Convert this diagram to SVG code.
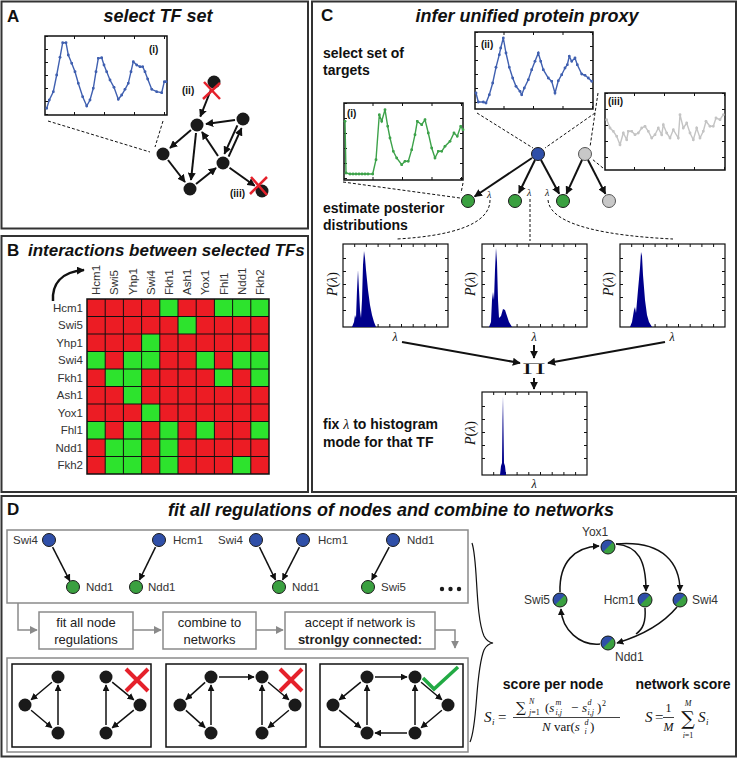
<svg xmlns="http://www.w3.org/2000/svg" width="738" height="759" viewBox="0 0 738 759">
<style>
.panel{fill:#fff;stroke:#333;stroke-width:2}
.plet{font-family:"Liberation Sans",Arial,sans-serif;font-weight:bold;font-size:17px;fill:#111}
.ttl{font-family:"Liberation Sans",Arial,sans-serif;font-weight:bold;font-style:italic;font-size:18px;fill:#111}
.lbl{font-family:"Liberation Sans",Arial,sans-serif;font-weight:bold;font-size:14px;fill:#111}
.sm{font-family:"Liberation Sans",Arial,sans-serif;font-weight:bold;font-size:10px;fill:#111}
.nm{font-family:"Liberation Sans",Arial,sans-serif;font-size:11.5px;fill:#333}
.fl{font-family:"Liberation Sans",Arial,sans-serif;font-size:13px;fill:#222}
.mth{font-family:"Liberation Serif","DejaVu Serif",serif;fill:#111}
.op{font-family:"DejaVu Serif","Liberation Serif",serif;fill:#111}
.it{font-style:italic}
.box{fill:#fff;stroke:#111;stroke-width:1.5}
.tk{fill:none;stroke:#111;stroke-width:3}
.ed{fill:none;stroke:#111;stroke-width:2;marker-end:url(#ah)}
.eds{fill:none;stroke:#111;stroke-width:1.5;marker-end:url(#ahs)}
.dash{fill:none;stroke:#111;stroke-width:1;stroke-dasharray:3 2}
.blk{fill:#1a1a1a}
.bl{fill:#2f4fa8;stroke:#1a1a1a;stroke-width:1}
.gr{fill:#3aa040;stroke:#1a1a1a;stroke-width:1}
.gy{fill:#c8c8c8;stroke:#555;stroke-width:1}
.gbox{fill:none;stroke:#8a8a8a;stroke-width:1.5}
.gline{fill:none;stroke:#8a8a8a;stroke-width:1.5;marker-end:url(#ahg)}
.rx{stroke:#e5212b;stroke-width:2.5;fill:none}
.rx2{stroke:#e5212b;stroke-width:4;fill:none}
.red{fill:#ec1c24}
.grn{fill:#2de32d}
.hist{fill:#00008b}
</style>
<defs>
<marker id="ah" viewBox="0 0 10 10" refX="9" refY="5" markerWidth="8" markerHeight="8" markerUnits="userSpaceOnUse" orient="auto"><path d="M0,0 L10,5 L0,10 z" fill="#111"/></marker>
<marker id="ahs" viewBox="0 0 10 10" refX="9" refY="5" markerWidth="7" markerHeight="7" markerUnits="userSpaceOnUse" orient="auto"><path d="M0,0 L10,5 L0,10 z" fill="#111"/></marker>
<marker id="ahg" viewBox="0 0 10 10" refX="9" refY="5" markerWidth="8" markerHeight="8" markerUnits="userSpaceOnUse" orient="auto"><path d="M0,0 L10,5 L0,10 z" fill="#8a8a8a"/></marker>
<marker id="mb" viewBox="-2 -2 4 4" refX="0" refY="0" markerWidth="3.4" markerHeight="3.4" markerUnits="userSpaceOnUse"><circle r="1.7" fill="#4060b0"/></marker>
<marker id="mg" viewBox="-2 -2 4 4" refX="0" refY="0" markerWidth="3.4" markerHeight="3.4" markerUnits="userSpaceOnUse"><circle r="1.7" fill="#3da24a"/></marker>
<marker id="my" viewBox="-2 -2 4 4" refX="0" refY="0" markerWidth="3.4" markerHeight="3.4" markerUnits="userSpaceOnUse"><circle r="1.7" fill="#c4c4c4"/></marker>
<g id="hbox">
<rect x="0" y="0" width="105" height="83" class="box" style="stroke-width:1.2"/>
<path d="M11.7,83v-3M23.4,83v-3M35.1,83v-3M46.8,83v-3M58.5,83v-3M70.2,83v-3M81.9,83v-3M93.6,83v-3M11.7,0v3M23.4,0v3M35.1,0v3M46.8,0v3M58.5,0v3M70.2,0v3M81.9,0v3M93.6,0v3" stroke="#111" stroke-width="1" fill="none"/>
<path d="M0,14.5h3M0,27.5h3M0,40.5h3M0,53.5h3M0,66.5h3M105,14.5h-3M105,27.5h-3M105,40.5h-3M105,53.5h-3M105,66.5h-3" stroke="#111" stroke-width="1" fill="none"/>
</g>
<g id="bi">
<circle r="7" fill="#3aa040"/>
<path d="M4.95,-4.95 A7,7 0 0 0 -4.95,4.95 Z" fill="#2f4fa8"/>
<circle r="7" fill="none" stroke="#1a1a1a" stroke-width="1"/>
</g>
</defs>

<rect width="738" height="759" fill="#fff"/>

<!-- Panel A -->
<g id="panelA">
<rect x="1.5" y="1.5" width="306.5" height="227" class="panel"/>
<text x="7" y="22" class="plet">A</text>
<text x="158" y="22" class="ttl" text-anchor="middle">select TF set</text>
<g id="A-plot">
<rect x="45" y="36" width="122" height="79" class="box"/>
<line x1="46.5" y1="36" x2="46.5" y2="115" class="tk" stroke-dasharray="1 12"/>
<line x1="45" y1="113.5" x2="167" y2="113.5" class="tk" stroke-dasharray="1 29" stroke-dashoffset="-29"/>
<line x1="45" y1="37.5" x2="167" y2="37.5" class="tk" stroke-dasharray="1 29" stroke-dashoffset="-29"/>
<polyline fill="none" stroke="#4060b0" stroke-width="1.4" marker-start="url(#mb)" marker-mid="url(#mb)" marker-end="url(#mb)" points="46.7,108.3 49.3,100 53.3,91.7 56.7,75 60,57.3 62.7,42.7 66,42.7 68.3,55 71.7,63.3 75,71.7 78.3,83.3 82.7,96.7 86.7,106 90,100 93.3,88.3 96,71.7 98.3,58.3 101.7,57.7 104,65 106.7,71.7 110,80 114,87.3 118.3,99.3 121.7,95 125,89.3 128.3,83.3 131,71.7 133.3,61.7 136.7,65 140,66.7 142.7,66.7 145,71.7 147.7,79 151.7,89.3 156.7,91.7 161.7,92.7 164.3,81.7 166,81.7"/>
<text x="149" y="53" class="sm">(i)</text>
</g>
<line x1="48" y1="121" x2="150" y2="152" class="dash"/>
<line x1="163" y1="121" x2="155" y2="147" class="dash"/>
<g id="A-nodes">
<circle cx="214" cy="82" r="6.5" class="blk"/>
<circle cx="197" cy="125" r="6.5" class="blk"/>
<circle cx="243" cy="119" r="6.5" class="blk"/>
<circle cx="163" cy="154" r="6.5" class="blk"/>
<circle cx="223" cy="163" r="6.5" class="blk"/>
<circle cx="190" cy="189" r="6.5" class="blk"/>
<circle cx="262" cy="191" r="6.5" class="blk"/>
</g>
<g id="A-edges">
<line x1="211" y1="89.5" x2="200.3" y2="116.6" class="ed"/>
<line x1="235" y1="120" x2="206" y2="124" class="ed"/>
<line x1="191" y1="130" x2="170" y2="148" class="ed"/>
<line x1="196" y1="133" x2="191" y2="180" class="ed"/>
<line x1="168" y1="160" x2="185" y2="182" class="ed"/>
<line x1="196" y1="184" x2="216" y2="168" class="ed"/>
<line x1="218" y1="156" x2="202" y2="132" class="ed"/>
<line x1="237.4" y1="125.3" x2="224.4" y2="153.8" class="ed"/>
<line x1="228.6" y1="156.7" x2="241.6" y2="128.2" class="ed"/>
<line x1="229.5" y1="167.7" x2="254.7" y2="185.8" class="ed"/>
</g>
<path d="M204,82 L220,99 M220,83 L203,99" class="rx"/>
<path d="M251,177 L267,195 M267,177 L250,194" class="rx"/>
<text x="182" y="94" class="sm">(ii)</text>
<text x="230" y="197" class="sm">(iii)</text>
</g>

<!-- Panel B -->
<g id="panelB">
<rect x="1.5" y="236" width="306.5" height="256" class="panel"/>
<text x="7" y="256" class="plet">B</text>
<text x="28" y="256" class="ttl" style="font-size:17px">interactions between selected TFs</text>
<path d="M53,301 C52,285 60,272 84,270" fill="none" stroke="#111" stroke-width="2.5" marker-end="url(#ah)"/>
<g id="B-cols" class="nm" style="font-size:11.5px">
<text transform="translate(100.1,295) rotate(-90)">Hcm1</text>
<text transform="translate(118.3,295) rotate(-90)">Swi5</text>
<text transform="translate(136.5,295) rotate(-90)">Yhp1</text>
<text transform="translate(154.7,295) rotate(-90)">Swi4</text>
<text transform="translate(172.9,295) rotate(-90)">Fkh1</text>
<text transform="translate(191.1,295) rotate(-90)">Ash1</text>
<text transform="translate(209.3,295) rotate(-90)">Yox1</text>
<text transform="translate(227.5,295) rotate(-90)">Fhl1</text>
<text transform="translate(245.7,295) rotate(-90)">Ndd1</text>
<text transform="translate(263.9,295) rotate(-90)">Fkh2</text>
</g>
<g id="B-rows" class="nm" text-anchor="end">
<text x="83" y="311.5">Hcm1</text>
<text x="83" y="329">Swi5</text>
<text x="83" y="346.5">Yhp1</text>
<text x="83" y="364">Swi4</text>
<text x="83" y="381.5">Fkh1</text>
<text x="83" y="399">Ash1</text>
<text x="83" y="416.5">Yox1</text>
<text x="83" y="434">Fhl1</text>
<text x="83" y="451.5">Ndd1</text>
<text x="83" y="469">Fkh2</text>
</g>
<g id="B-matrix">
<rect x="87" y="299" width="182" height="175" class="red"/>
<g class="grn">
<rect x="159.8" y="299" width="18.2" height="17.5"/><rect x="214.4" y="299" width="18.2" height="17.5"/><rect x="232.6" y="299" width="18.2" height="17.5"/><rect x="250.8" y="299" width="18.2" height="17.5"/>
<rect x="178" y="316.5" width="18.2" height="17.5"/>
<rect x="141.6" y="334" width="18.2" height="17.5"/>
<rect x="87" y="351.5" width="18.2" height="17.5"/><rect x="123.4" y="351.5" width="18.2" height="17.5"/><rect x="141.6" y="351.5" width="18.2" height="17.5"/><rect x="196.2" y="351.5" width="18.2" height="17.5"/><rect x="232.6" y="351.5" width="18.2" height="17.5"/><rect x="250.8" y="351.5" width="18.2" height="17.5"/>
<rect x="105.2" y="369" width="18.2" height="17.5"/><rect x="123.4" y="369" width="18.2" height="17.5"/><rect x="214.4" y="369" width="18.2" height="17.5"/><rect x="250.8" y="369" width="18.2" height="17.5"/>
<rect x="123.4" y="386.5" width="18.2" height="17.5"/>
<rect x="141.6" y="404" width="18.2" height="17.5"/>
<rect x="87" y="421.5" width="18.2" height="17.5"/><rect x="123.4" y="421.5" width="18.2" height="17.5"/><rect x="159.8" y="421.5" width="18.2" height="17.5"/><rect x="196.2" y="421.5" width="18.2" height="17.5"/><rect x="250.8" y="421.5" width="18.2" height="17.5"/>
<rect x="105.2" y="439" width="18.2" height="17.5"/><rect x="123.4" y="439" width="18.2" height="17.5"/><rect x="159.8" y="439" width="18.2" height="17.5"/>
<rect x="105.2" y="456.5" width="18.2" height="17.5"/><rect x="123.4" y="456.5" width="18.2" height="17.5"/><rect x="159.8" y="456.5" width="18.2" height="17.5"/><rect x="232.6" y="456.5" width="18.2" height="17.5"/>
</g>
<path d="M105.2,299V474M123.4,299V474M141.6,299V474M159.8,299V474M178,299V474M196.2,299V474M214.4,299V474M232.6,299V474M250.8,299V474M87,316.5H269M87,334H269M87,351.5H269M87,369H269M87,386.5H269M87,404H269M87,421.5H269M87,439H269M87,456.5H269" stroke="#111" stroke-width="1" fill="none"/>
<rect x="87" y="299" width="182" height="175" fill="none" stroke="#111" stroke-width="1.5"/>
</g>
</g>

<!-- Panel C -->
<g id="panelC">
<rect x="312" y="1.5" width="424" height="490.5" class="panel"/>
<text x="321" y="21" class="plet">C</text>
<text x="527" y="22" class="ttl" text-anchor="middle">infer unified protein proxy</text>
<text x="323" y="58" class="lbl">select set of</text>
<text x="323" y="75" class="lbl">targets</text>
<text x="323" y="213" class="lbl">estimate posterior</text>
<text x="323" y="230" class="lbl">distributions</text>
<text x="323" y="429" class="lbl">fix <tspan class="mth it" style="font-weight:normal">λ</tspan> to histogram</text>
<text x="323" y="447" class="lbl">mode for that TF</text>

<g id="C-plot-ii">
<rect x="475" y="32" width="118" height="77" class="box"/>
<line x1="476.5" y1="32" x2="476.5" y2="109" class="tk" stroke-dasharray="1 13"/>
<line x1="591.5" y1="32" x2="591.5" y2="109" class="tk" stroke-dasharray="1 13"/>
<line x1="475" y1="107.5" x2="593" y2="107.5" class="tk" stroke-dasharray="1 28.5" stroke-dashoffset="-28.5"/>
<line x1="475" y1="33.5" x2="593" y2="33.5" class="tk" stroke-dasharray="1 28.5" stroke-dashoffset="-28.5"/>
<polyline fill="none" stroke="#4060b0" stroke-width="1.4" marker-start="url(#mb)" marker-mid="url(#mb)" marker-end="url(#mb)" points="476,93 478.3,102 483.3,102 486,103 489.3,94.7 492.7,83 496,67.3 499.3,54.7 500.7,48 503.3,38 506,53 509.3,67.3 512.7,78 516,86.3 520,91.3 521.7,94.7 524.3,88 528.3,79.7 531.7,69.7 535,61.3 538.3,53 540.7,61.3 543.3,69.7 548.3,78 551.7,81.3 555,93 558.3,80.7 561.7,74.7 565,68 567.3,64.7 569.3,56.3 571.7,61.3 575,58 577.3,64.7 581.7,74 585,75.3 588.3,78 591.7,81.3"/>
<text x="481" y="48" class="sm">(ii)</text>
</g>
<g id="C-plot-i">
<rect x="344" y="103" width="119" height="77" class="box"/>
<line x1="345.5" y1="103" x2="345.5" y2="180" class="tk" stroke-dasharray="1 14"/>
<line x1="461.5" y1="103" x2="461.5" y2="180" class="tk" stroke-dasharray="1 14"/>
<line x1="344" y1="178.5" x2="463" y2="178.5" class="tk" stroke-dasharray="1 28.5" stroke-dashoffset="-28.5"/>
<line x1="344" y1="104.5" x2="463" y2="104.5" class="tk" stroke-dasharray="1 28.5" stroke-dashoffset="-28.5"/>
<polyline fill="none" stroke="#3da24a" stroke-width="1.4" marker-start="url(#mg)" marker-mid="url(#mg)" marker-end="url(#mg)" points="345,121.3 346,173 350,174 353,174 356,174 359,174 362,174 365,174 368,174 372.7,174 376,159.7 379.3,114.7 381.7,121.3 385,109.7 387.7,126.3 390,138 393.3,151.3 396.7,158 401.7,164.7 405,161.3 408.3,161.3 411.7,149.7 415,134.7 417.3,121.3 421.7,124.7 425,119.7 428.3,133 431.7,148 435,158 438.3,151.3 441.7,151.3 445,146.3 450,141.3 454,133 457.3,136.3 460.7,126.3 463,129.7"/>
<text x="347" y="117" class="sm">(i)</text>
</g>
<g id="C-plot-iii">
<rect x="605" y="93" width="120" height="77" class="box"/>
<line x1="606.5" y1="93" x2="606.5" y2="170" class="tk" stroke-dasharray="1 15"/>
<line x1="723.5" y1="93" x2="723.5" y2="170" class="tk" stroke-dasharray="1 15"/>
<line x1="605" y1="168.5" x2="725" y2="168.5" class="tk" stroke-dasharray="1 29" stroke-dashoffset="-29"/>
<line x1="605" y1="94.5" x2="725" y2="94.5" class="tk" stroke-dasharray="1 29" stroke-dashoffset="-29"/>
<polyline fill="none" stroke="#c4c4c4" stroke-width="1.4" marker-start="url(#my)" marker-mid="url(#my)" marker-end="url(#my)" points="606.7,119.7 610,128 613.3,131.3 616.7,136.3 620,144.7 623.3,133 626.7,139.7 628.3,131.3 631.7,131.3 635,134.7 638.3,133 641.7,128 645,126.3 648.3,131.3 651.7,138 655,134.7 658.3,128 661.7,134.7 663.3,124.7 666.7,133 670,138 673.3,129.7 678.3,138 680,114.7 683.3,128 686.7,123 690,133 693.3,139.7 696.7,128 700,138 703.3,131.3 706,121.3 710,126.3 713.3,126.3 716,118 720,119.7 723.3,114.7"/>
<text x="608" y="105" class="sm">(iii)</text>
</g>

<g id="C-dashes">
<line x1="477" y1="113" x2="533" y2="148" class="dash"/>
<line x1="595" y1="113" x2="545" y2="148" class="dash"/>
<line x1="598" y1="93" x2="590" y2="147" class="dash"/>
<line x1="603" y1="168" x2="592" y2="159" class="dash"/>
<line x1="343" y1="182" x2="460" y2="198" class="dash"/>
<line x1="463" y1="183" x2="461" y2="193" class="dash"/>
<path d="M490,200 C490,225 450,236 397,239" class="dash"/>
<line x1="530" y1="199" x2="530" y2="241" class="dash"/>
<path d="M548,200 C550,226 610,236 673,239" class="dash"/>
</g>
<g id="C-nodes">
<circle cx="538" cy="154" r="6.5" class="bl"/>
<circle cx="585" cy="154" r="6.5" class="gy"/>
<circle cx="468" cy="201" r="6.5" class="gr"/>
<circle cx="515" cy="201" r="6.5" class="gr"/>
<circle cx="563" cy="201" r="6.5" class="gr"/>
<circle cx="609" cy="201" r="6.5" class="gy"/>
</g>
<g id="C-edges">
<line x1="532" y1="158" x2="474.6" y2="196.5" class="ed"/>
<line x1="535" y1="160" x2="518.9" y2="193" class="ed"/>
<line x1="541" y1="160" x2="559.2" y2="193.8" class="ed"/>
<line x1="582" y1="160" x2="566.4" y2="193.8" class="ed"/>
<line x1="588" y1="160" x2="605.4" y2="193.9" class="ed"/>
</g>
<g class="mth it" style="font-size:10px">
<text x="487" y="198">λ</text>
<text x="527" y="196">λ</text>
<text x="545" y="196">λ</text>
</g>

<g id="C-hists">
<use href="#hbox" x="343" y="244"/>
<use href="#hbox" x="482" y="244"/>
<use href="#hbox" x="620" y="244"/>
<use href="#hbox" x="482" y="392"/>
<path class="hist" d="M352,327 L354,322 L355,315 L356,318 L357,290 L358,270 L359,290 L360,310 L361,318 L362,300 L363,265 L364,251 L365,258 L366,270 L368,290 L370,305 L372,315 L374,322 L376,327 Z"/>
<path class="hist" d="M489,327 L491,322 L492,300 L493,292 L494,300 L495,270 L496,248 L497,262 L498,300 L499,318 L501,316 L503,309 L505,310 L507,316 L509,322 L512,327 Z"/>
<path class="hist" d="M630,327 L632,322 L634,310 L635,307 L636,313 L638,290 L640,268 L641,252 L642,256 L643,275 L645,300 L647,315 L649,322 L652,327 Z"/>
<path class="hist" d="M500,475 L501,466 L502,463 L502.5,420 L503,396 L503.5,430 L504,463 L505,466 L506,475 Z"/>
<g class="mth" style="font-size:14px" text-anchor="middle">
<text transform="translate(337,284) rotate(-90)"><tspan class="it">P</tspan>(<tspan class="it">λ</tspan>)</text>
<text transform="translate(475,284) rotate(-90)"><tspan class="it">P</tspan>(<tspan class="it">λ</tspan>)</text>
<text transform="translate(613,284) rotate(-90)"><tspan class="it">P</tspan>(<tspan class="it">λ</tspan>)</text>
<text transform="translate(475,433) rotate(-90)"><tspan class="it">P</tspan>(<tspan class="it">λ</tspan>)</text>
</g>
<g class="mth it" style="font-size:12px" text-anchor="middle">
<text x="395" y="341">λ</text>
<text x="534" y="341">λ</text>
<text x="672" y="341">λ</text>
<text x="534" y="488">λ</text>
</g>
</g>
<g id="C-prod">
<line x1="402" y1="342" x2="520" y2="363" class="ed"/>
<line x1="665" y1="342" x2="548" y2="363" class="ed"/>
<line x1="534" y1="345" x2="534" y2="358" class="ed"/>
<line x1="534" y1="378" x2="534" y2="389" class="ed"/>
<text transform="translate(534,372) scale(1.43,0.58)" class="op" style="font-size:20px" text-anchor="middle">∏</text>
</g>
</g>

<!-- Panel D -->
<g id="panelD">
<rect x="1.5" y="496" width="734.5" height="260.5" class="panel"/>
<text x="7" y="515" class="plet">D</text>
<text x="391" y="516" class="ttl" text-anchor="middle">fit all regulations of nodes and combine to networks</text>

<rect x="7" y="530" width="461" height="73" class="gbox"/>
<g id="D-reg-nodes">
<circle cx="49" cy="540" r="6.5" class="bl"/>
<circle cx="159" cy="540" r="6.5" class="bl"/>
<circle cx="256" cy="540" r="6.5" class="bl"/>
<circle cx="303" cy="540" r="6.5" class="bl"/>
<circle cx="393" cy="540" r="6.5" class="bl"/>
<circle cx="73" cy="587" r="6.5" class="gr"/>
<circle cx="136" cy="587" r="6.5" class="gr"/>
<circle cx="279" cy="587" r="6.5" class="gr"/>
<circle cx="368" cy="587" r="6.5" class="gr"/>
</g>
<g class="nm">
<text x="13" y="544">Swi4</text>
<text x="173" y="544">Hcm1</text>
<text x="218" y="544">Swi4</text>
<text x="318" y="544">Hcm1</text>
<text x="407" y="544">Ndd1</text>
<text x="86" y="591">Ndd1</text>
<text x="148" y="591">Ndd1</text>
<text x="292" y="591">Ndd1</text>
<text x="381" y="591">Swi5</text>
</g>
<g id="D-reg-edges">
<line x1="52.6" y1="547.1" x2="69.8" y2="580.8" class="eds"/>
<line x1="155.5" y1="547.2" x2="139.5" y2="579.8" class="eds"/>
<line x1="259.5" y1="547.2" x2="275.5" y2="579.8" class="eds"/>
<line x1="299.4" y1="547.1" x2="282.6" y2="579.9" class="eds"/>
<line x1="389.2" y1="547.1" x2="371.8" y2="579.9" class="eds"/>
</g>
<circle cx="442" cy="589" r="2.2" class="blk"/>
<circle cx="450.5" cy="589" r="2.2" class="blk"/>
<circle cx="459" cy="589" r="2.2" class="blk"/>

<g id="D-flow">
<path d="M18,603 V630 H37" class="gline"/>
<rect x="39" y="612" width="94" height="37" class="gbox"/>
<rect x="163" y="612" width="93" height="37" class="gbox"/>
<rect x="285" y="612" width="150" height="37" class="gbox"/>
<line x1="133" y1="630" x2="161" y2="630" class="gline"/>
<line x1="256" y1="630" x2="283" y2="630" class="gline"/>
<path d="M435,630 H455 V648" class="gline"/>
<g class="fl" text-anchor="middle">
<text x="86" y="627">fit all node</text>
<text x="86" y="644">regulations</text>
<text x="209.5" y="627">combine to</text>
<text x="209.5" y="644">networks</text>
<text x="360" y="627">accept if network is</text>
<text x="360" y="644" font-weight="bold">stronlgy connected:</text>
</g>
</g>

<rect x="7" y="658" width="461" height="94" class="gbox"/>
<rect x="12" y="664" width="139" height="83" fill="none" stroke="#111" stroke-width="1.5"/>
<rect x="166" y="664" width="140" height="83" fill="none" stroke="#111" stroke-width="1.5"/>
<rect x="320" y="664" width="143" height="83" fill="none" stroke="#111" stroke-width="1.5"/>
<g id="D-net1">
<circle cx="58" cy="677" r="6.5" class="blk"/><circle cx="25" cy="705" r="6.5" class="blk"/><circle cx="58" cy="733" r="6.5" class="blk"/>
<circle cx="106" cy="677" r="6.5" class="blk"/><circle cx="140" cy="705" r="6.5" class="blk"/><circle cx="106" cy="733" r="6.5" class="blk"/>
<line x1="51.9" y1="682.2" x2="31.1" y2="699.8" class="eds"/>
<line x1="31.1" y1="710.2" x2="51.9" y2="727.8" class="eds"/>
<line x1="58" y1="725" x2="58" y2="685" class="eds"/>
<line x1="106" y1="725" x2="106" y2="685" class="eds"/>
<line x1="112.2" y1="682.1" x2="133.8" y2="699.9" class="eds"/>
<line x1="133.8" y1="710.1" x2="112.2" y2="727.9" class="eds"/>
<path d="M126,669 L148,691 M148,669 L126,691" class="rx2"/>
</g>
<g id="D-net2">
<circle cx="180" cy="705" r="6.5" class="blk"/><circle cx="211" cy="677" r="6.5" class="blk"/><circle cx="211" cy="733" r="6.5" class="blk"/>
<circle cx="262" cy="677" r="6.5" class="blk"/><circle cx="295" cy="705" r="6.5" class="blk"/><circle cx="262" cy="733" r="6.5" class="blk"/>
<line x1="205.1" y1="682.4" x2="185.9" y2="699.6" class="eds"/>
<line x1="185.9" y1="710.4" x2="205.1" y2="727.6" class="eds"/>
<line x1="211" y1="725" x2="211" y2="685" class="eds"/>
<line x1="219" y1="677" x2="254" y2="677" class="eds"/>
<line x1="262" y1="725" x2="262" y2="685" class="eds"/>
<line x1="268.1" y1="682.2" x2="288.9" y2="699.8" class="eds"/>
<line x1="288.9" y1="710.2" x2="268.1" y2="727.8" class="eds"/>
<path d="M280,669 L302,691 M302,669 L280,691" class="rx2"/>
</g>
<g id="D-net3">
<circle cx="333" cy="705" r="6.5" class="blk"/><circle cx="367" cy="677" r="6.5" class="blk"/><circle cx="367" cy="733" r="6.5" class="blk"/>
<circle cx="415" cy="677" r="6.5" class="blk"/><circle cx="448" cy="705" r="6.5" class="blk"/><circle cx="415" cy="733" r="6.5" class="blk"/>
<line x1="360.8" y1="682.1" x2="339.2" y2="699.9" class="eds"/>
<line x1="339.2" y1="710.1" x2="360.8" y2="727.9" class="eds"/>
<line x1="367" y1="725" x2="367" y2="685" class="eds"/>
<line x1="375" y1="677" x2="407" y2="677" class="eds"/>
<line x1="415" y1="725" x2="415" y2="685" class="eds"/>
<line x1="421.1" y1="682.2" x2="441.9" y2="699.8" class="eds"/>
<line x1="441.9" y1="710.2" x2="421.1" y2="727.8" class="eds"/>
<line x1="407" y1="733" x2="375" y2="733" class="eds"/>
<path d="M423,678 L434,689 L458,667" fill="none" stroke="#22aa44" stroke-width="3.5"/>
</g>

<path id="D-brace" d="M472,543 C478,560 475,615 484,636 Q487,642 493,643 Q487,644 484,650 C475,672 478,725 470,742" fill="none" stroke="#111" stroke-width="1.2"/>

<g id="D-net">
<g id="D-net-edges">
<path d="M560,592 C559,562 575,547 599,546" class="eds"/>
<path d="M616,544 C638,546 646,560 646,591" class="eds"/>
<path d="M616,544 C665,540 680,565 680,591" class="eds"/>
<path d="M645,608 C646,622 643,629 636,634" fill="none" stroke="#111" stroke-width="1.5"/>
<path d="M677,607 C662,625 640,636 617,643" class="eds"/>
<path d="M600,644 C580,646 562,630 561,609" class="eds"/>
</g>
<use id="n-yox1" href="#bi" x="608" y="547"/>
<use id="n-swi5" href="#bi" x="560" y="600"/>
<use id="n-hcm1" href="#bi" x="645" y="600"/>
<use id="n-swi4" href="#bi" x="680" y="600"/>
<use id="n-ndd1" href="#bi" x="608" y="643"/>
<g class="nm" style="font-size:12px">
<text x="582" y="536">Yox1</text>
<text x="550" y="604" text-anchor="end">Swi5</text>
<text x="635" y="604" text-anchor="end">Hcm1</text>
<text x="692" y="604">Swi4</text>
<text x="615" y="661">Ndd1</text>
</g>
</g>

<text x="553" y="689" class="lbl" text-anchor="middle">score per node</text>
<text x="683" y="689" class="lbl" text-anchor="middle">network score</text>

<g id="formula1" class="mth">
<text x="484" y="722" class="it" style="font-size:15px">S</text>
<text x="492" y="725" class="it" style="font-size:9px">i</text>
<text x="498" y="722" style="font-size:15px">=</text>
<line x1="513" y1="717.5" x2="620" y2="717.5" stroke="#111" stroke-width="0.8"/>
<text x="516" y="712" class="op" style="font-size:14px">∑</text>
<text x="529" y="704" class="it" style="font-size:8px">N</text>
<text x="529" y="715" style="font-size:8px"><tspan class="it">j</tspan>=1</text>
<text x="545" y="712" style="font-size:13px">(<tspan class="it">s</tspan></text>
<text x="555.5" y="705" class="it" style="font-size:8px">m</text>
<text x="555.5" y="715" class="it" style="font-size:8px">i,j</text>
<text x="571" y="712" style="font-size:13px">−</text>
<text x="582" y="712" class="it" style="font-size:13px">s</text>
<text x="587.5" y="705" class="it" style="font-size:8px">d</text>
<text x="587.5" y="715" class="it" style="font-size:8px">i,j</text>
<text x="597" y="712" style="font-size:13px">)</text>
<text x="602" y="706" style="font-size:8px">2</text>
<text x="542" y="731" style="font-size:13px"><tspan class="it">N</tspan> var(<tspan class="it">s</tspan></text>
<text x="584.5" y="725" class="it" style="font-size:8px">d</text>
<text x="584.5" y="734" class="it" style="font-size:8px">i</text>
<text x="590" y="731" style="font-size:13px">)</text>
</g>
<g id="formula2" class="mth">
<text x="645" y="722" class="it" style="font-size:15px">S</text>
<text x="655" y="722" style="font-size:15px">=</text>
<text x="668.5" y="712" text-anchor="middle" style="font-size:12px">1</text>
<line x1="663" y1="717.5" x2="674" y2="717.5" stroke="#111" stroke-width="0.8"/>
<text x="668.5" y="731" text-anchor="middle" class="it" style="font-size:12px">M</text>
<text x="688" y="725" text-anchor="middle" class="op" style="font-size:19px">∑</text>
<text x="688" y="706" text-anchor="middle" class="it" style="font-size:8px">M</text>
<text x="688" y="738" text-anchor="middle" style="font-size:8px"><tspan class="it">i</tspan>=1</text>
<text x="698" y="722" class="it" style="font-size:15px">S</text>
<text x="706" y="725" class="it" style="font-size:9px">i</text>
</g>
</g>
</svg>
